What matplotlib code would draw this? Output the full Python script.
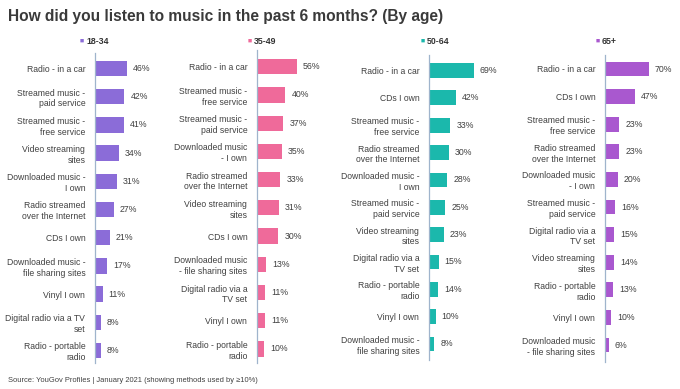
import matplotlib
matplotlib.use("Agg")
import matplotlib.pyplot as plt

plt.rcParams['font.family'] = ['Liberation Sans', 'DejaVu Sans']

title = "How did you listen to music in the past 6 months? (By age)"
source = "Source: YouGov Profiles | January 2021 (showing methods used by \u226510%)"

groups = ["18-34", "35-49", "50-64", "65+"]
colors = ["#8B6CD8", "#EF6A9A", "#1BB8AC", "#A958CF"]

labels_18_34 = ["Radio - in a car", "Streamed music -\npaid service", "Streamed music -\nfree service",
                "Video streaming\nsites", "Downloaded music -\nI own", "Radio streamed\nover the Internet",
                "CDs I own", "Downloaded music -\nfile sharing sites", "Vinyl I own",
                "Digital radio via a TV\nset", "Radio - portable\nradio"]
values_18_34 = [46, 42, 41, 34, 31, 27, 21, 17, 11, 8, 8]

labels_35_49 = ["Radio - in a car", "Streamed music -\nfree service", "Streamed music -\npaid service",
                "Downloaded music\n- I own", "Radio streamed\nover the Internet", "Video streaming\nsites",
                "CDs I own", "Downloaded music\n- file sharing sites", "Digital radio via a\nTV set",
                "Vinyl I own", "Radio - portable\nradio"]
values_35_49 = [56, 40, 37, 35, 33, 31, 30, 13, 11, 11, 10]

labels_50_64 = ["Radio - in a car", "CDs I own", "Streamed music -\nfree service",
                "Radio streamed\nover the Internet", "Downloaded music -\nI own", "Streamed music -\npaid service",
                "Video streaming\nsites", "Digital radio via a\nTV set", "Radio - portable\nradio",
                "Vinyl I own", "Downloaded music -\nfile sharing sites"]
values_50_64 = [69, 42, 33, 30, 28, 25, 23, 15, 14, 10, 8]

labels_65 = ["Radio - in a car", "CDs I own", "Streamed music -\nfree service",
             "Radio streamed\nover the Internet", "Downloaded music\n- I own", "Streamed music -\npaid service",
             "Digital radio via a\nTV set", "Video streaming\nsites", "Radio - portable\nradio",
             "Vinyl I own", "Downloaded music\n- file sharing sites"]
values_65 = [70, 47, 23, 23, 20, 16, 15, 14, 13, 10, 6]

all_labels = [labels_18_34, labels_35_49, labels_50_64, labels_65]
all_values = [values_18_34, values_35_49, values_50_64, values_65]

W, H = 680, 389
fig = plt.figure(figsize=(W / 100, H / 100), dpi=100)

# layout in pixels: axis x, px per %, axis top, axis bottom, first bar center, last bar center
layout = [
    (95, 0.70, 53, 363, 68.5, 350.5),
    (257, 0.71, 50, 363, 66.7, 349.0),
    (429, 0.65, 55, 360, 70.5, 344.0),
    (605, 0.63, 55, 362, 69.0, 345.0),
]
legend_x = [80, 248, 421, 596]

for i, (labs, vals) in enumerate(zip(all_labels, all_values)):
    ax_x, scale, top, bot, c0, c1 = layout[i]
    n = len(vals)
    sp = (c1 - c0) / (n - 1)
    y_top = -(c0 - top) / sp
    y_bot = (n - 1) + (bot - c1) / sp
    width_px = 100 * scale
    ax = fig.add_axes([ax_x / W, 1 - bot / H, width_px / W, (bot - top) / H])
    ax.barh(range(n), vals, height=0.54, color=colors[i])
    ax.set_xlim(0, 100)
    ax.set_ylim(y_bot, y_top)
    for s in ["top", "right", "bottom"]:
        ax.spines[s].set_visible(False)
    ax.spines["left"].set_color("#9FB4CC")
    ax.spines["left"].set_linewidth(0.9)
    ax.set_xticks([])
    ax.set_yticks(range(n))
    ax.set_yticklabels(labs, fontsize=6.2, color="#404040", linespacing=1.25)
    ax.tick_params(axis="y", length=0, pad=7)
    for j, v in enumerate(vals):
        ax.text(v + 6 / scale, j, f"{v}%", va="center", ha="left", fontsize=6.3, color="#404040")
    ax.patch.set_alpha(0)
    lx = legend_x[i]
    fig.text(lx / W, 1 - 41 / H, "\u25A0", fontsize=5, color=colors[i], va="center", ha="left")
    fig.text((lx + 6) / W, 1 - 41 / H, groups[i], fontsize=6.3, color="#333333",
             va="center", ha="left", fontweight="bold")

fig.text(8 / W, 1 - 16 / H, title, fontsize=11.2, fontweight="bold", color="#3A3A3A",
         va="center", ha="left")
fig.text(8 / W, 1 - 381 / H, source, fontsize=5.4, color="#404040", va="center", ha="left")

fig.savefig("out.png", dpi=100)
